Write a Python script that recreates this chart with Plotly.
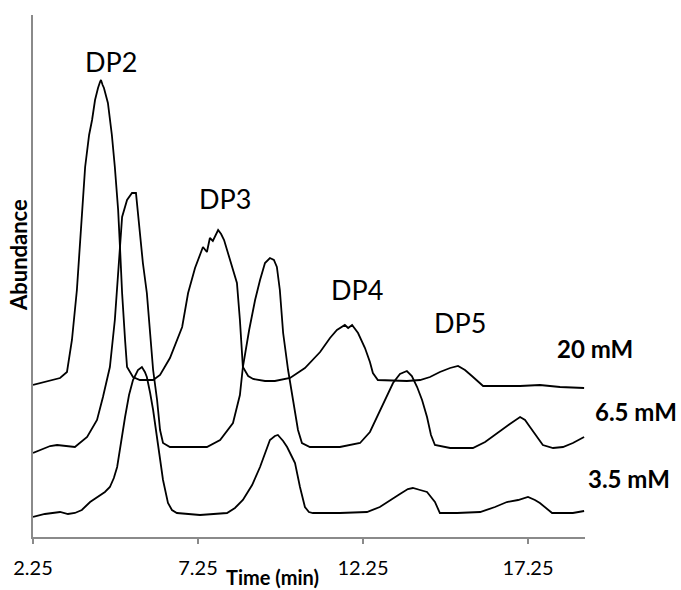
import plotly.graph_objects as go

# Retention time (min) and abundance (arbitrary units, stacked offsets as drawn)
t_20 = [2.25, 2.61, 3.07, 3.28, 3.43, 3.58, 3.70, 3.83, 3.95, 4.04, 4.13, 4.19, 4.22, 4.28, 4.31,
        4.36, 4.40, 4.52, 4.64, 4.73, 4.83, 4.89, 4.95, 5.04, 5.10, 5.28, 5.49, 5.89, 6.10, 6.40,
        6.77, 6.95, 7.16, 7.40, 7.52, 7.61, 7.70, 7.86, 7.95, 8.04, 8.22, 8.43, 8.52, 8.61, 8.77,
        8.92, 9.28, 9.58, 10.04, 10.49, 10.95, 11.25, 11.46, 11.70, 11.80, 11.92, 12.10, 12.31,
        12.46, 12.55, 12.70, 13.22, 13.58, 13.98, 14.28, 14.58, 14.89, 15.13, 15.34, 15.55, 15.70,
        15.89, 16.40, 17.01, 17.61, 18.22, 18.95]
a_20 = [152, 155, 159, 165, 197, 247, 307, 370, 402, 417, 437, 447, 449, 455, 457,
        452, 449, 434, 402, 370, 327, 287, 244, 197, 170, 160, 157, 157, 162, 179,
        210, 244, 269, 290, 285, 299, 296, 307, 303, 297, 277, 254, 217, 170, 161,
        158, 156, 156, 159, 169, 185, 199, 207, 212, 209, 212, 204, 189,
        175, 164, 157, 156, 156, 157, 160, 165, 169, 171, 167, 161, 157,
        151, 151, 151, 152, 150, 149]

t_65 = [2.25, 2.77, 2.98, 3.52, 3.89, 4.19, 4.37, 4.58, 4.73, 4.86, 4.95, 5.10, 5.25, 5.37, 5.43,
        5.49, 5.58, 5.70, 5.80, 5.89, 6.01, 6.10, 6.19, 6.40, 6.70, 7.52, 7.92, 8.31, 8.52, 8.61,
        8.80, 8.98, 9.13, 9.28, 9.43, 9.55, 9.64, 9.73, 9.83, 9.98, 10.13, 10.28, 10.40, 10.64,
        11.55, 12.16, 12.46, 12.67, 12.92, 13.16, 13.37, 13.58, 13.73, 13.89, 14.04, 14.19, 14.31,
        14.43, 14.89, 15.58, 15.95, 16.31, 16.70, 17.01, 17.16, 17.31, 17.52, 17.70, 18.01, 18.31,
        18.61, 18.95]
a_65 = [84, 91, 92, 90, 100, 117, 140, 170, 217, 277, 320, 337, 344, 344, 324,
        304, 274, 244, 207, 167, 137, 107, 94, 90, 90, 90, 97, 114, 142, 170,
        207, 237, 257, 274, 279, 277, 270, 247, 204, 167, 137, 107, 94, 90,
        90, 94, 105, 120, 137, 154, 163, 166, 161, 150, 137, 120, 102,
        92, 89, 89, 95, 104, 113, 120, 117, 110, 100, 92, 89, 90,
        94, 100]

t_35 = [2.25, 2.61, 3.07, 3.31, 3.52, 3.73, 3.98, 4.19, 4.43, 4.58, 4.70, 4.80, 4.92, 5.04, 5.16,
        5.28, 5.43, 5.55, 5.64, 5.70, 5.80, 5.89, 6.04, 6.19, 6.34, 6.46, 6.61, 7.31, 8.13, 8.37,
        8.61, 8.89, 9.13, 9.31, 9.43, 9.58, 9.67, 9.83, 9.95, 10.10, 10.19, 10.34, 10.49, 10.61,
        10.73, 11.55, 12.37, 12.76, 13.07, 13.37, 13.61, 13.76, 13.98, 14.19, 14.31, 14.43, 14.58,
        15.10, 15.80, 16.25, 16.61, 16.95, 17.25, 17.46, 17.61, 17.79, 17.98, 18.61, 18.95]
a_35 = [20, 23, 25, 23, 24, 27, 35, 40, 45, 50, 59, 70, 97, 120, 142,
        157, 167, 170, 165, 160, 144, 127, 92, 57, 34, 27, 24, 22, 24, 29,
        37, 52, 70, 87, 97, 101, 102, 96, 90, 80, 74, 50, 30, 25,
        24, 24, 25, 30, 37, 43, 48, 49, 47, 45, 40, 35, 24,
        24, 25, 30, 35, 37, 40, 37, 34, 29, 24, 24, 26]

peak_labels = ["DP2", "DP3", "DP4", "DP5"]
peak_label_x = [4.61, 8.07, 12.07, 15.19]
peak_label_y = [476, 339, 248, 215]

conc_labels = ["20 mM", "6.5 mM", "3.5 mM"]
conc_label_x = [1.018, 1.092, 1.080]   # paper fraction (right of the plot area)
conc_label_y = [189, 126, 59]

tick_vals = [2.25, 7.25, 12.25, 17.25]
tick_text = ["2.25", "7.25", "12.25", "17.25"]

FONT = "Lato, 'Open Sans', sans-serif"
fig = go.Figure()
for t, a, name in [(t_20, a_20, "20 mM"), (t_65, a_65, "6.5 mM"), (t_35, a_35, "3.5 mM")]:
    fig.add_trace(go.Scatter(x=t, y=a, mode="lines", name=name,
                             line=dict(color="black", width=1.8), showlegend=False))

for txt, x, y in zip(peak_labels, peak_label_x, peak_label_y):
    fig.add_annotation(x=x, y=y, xref="x", yref="y", text=txt, showarrow=False,
                       xanchor="center", yanchor="middle",
                       font=dict(family=FONT, size=27, color="black"))
for txt, x, y in zip(conc_labels, conc_label_x, conc_label_y):
    fig.add_annotation(x=x, y=y, xref="paper", yref="y", text="<b>" + txt + "</b>", showarrow=False,
                       xanchor="center", yanchor="middle",
                       font=dict(family=FONT, size=24, color="black"))

fig.add_annotation(x=-15 / 552, y=282, xref="paper", yref="y", text="<b>Abundance</b>",
                   textangle=-90, showarrow=False, xanchor="center", yanchor="middle",
                   font=dict(family=FONT, size=22, color="black"))
fig.add_annotation(x=9.52, y=-40 / 522, xref="x", yref="paper", text="<b>Time (min)</b>",
                   showarrow=False, xanchor="center", yanchor="middle",
                   font=dict(family=FONT, size=20, color="black"))

fig.update_layout(
    width=681, height=590,
    margin=dict(l=33, r=96, t=15, b=53),
    paper_bgcolor="white", plot_bgcolor="white",
    font=dict(family=FONT, color="black"),
)
fig.update_xaxes(range=[2.25, 2.25 + 552 / 33], tickvals=tick_vals, ticktext=tick_text,
                 showline=True, linecolor="#8a8a8a", linewidth=2, ticks="outside",
                 tickcolor="#8a8a8a", ticklen=5, tickwidth=2, showgrid=False, zeroline=False,
                 tickfont=dict(family=FONT, size=20, color="black"), ticklabelstandoff=7)
fig.update_yaxes(range=[0, 522], showline=True, linecolor="#8a8a8a", linewidth=2,
                 showticklabels=False, ticks="", showgrid=False, zeroline=False)

fig.write_html("out.html")
